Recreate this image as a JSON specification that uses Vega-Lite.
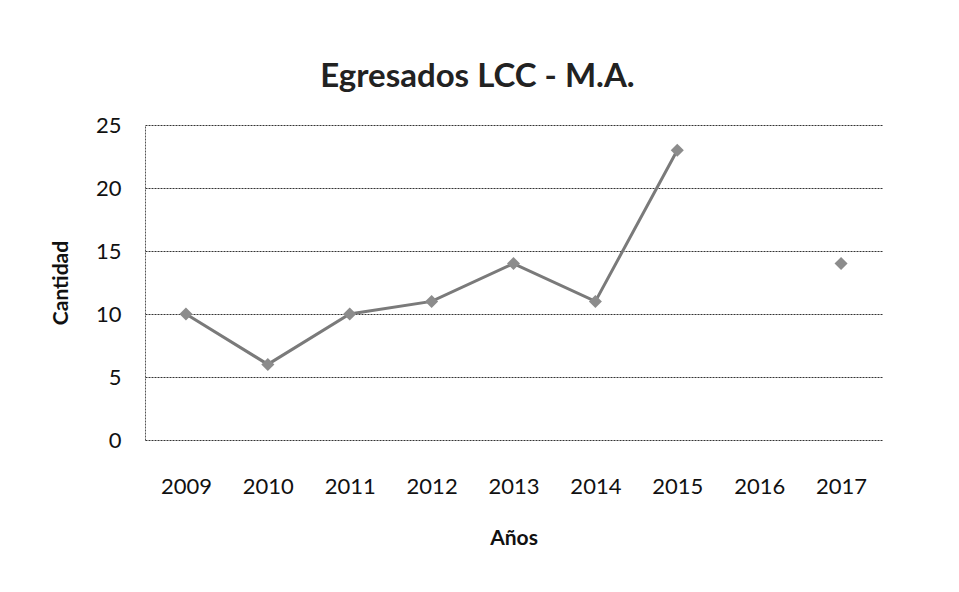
{
  "$schema": "https://vega.github.io/schema/vega-lite/v6.json",
  "width": 737,
  "height": 315,
  "autosize": "none",
  "padding": {"left": 145, "top": 125, "right": 77, "bottom": 152},
  "background": "white",
  "title": {
    "text": "Egresados LCC - M.A.",
    "font": "Lato",
    "fontSize": 33,
    "fontWeight": "bold",
    "color": "#222222",
    "anchor": "middle",
    "dx": -36,
    "offset": 20
  },
  "data": {
    "values": [
      {"year": "2009", "count": 10},
      {"year": "2010", "count": 6},
      {"year": "2011", "count": 10},
      {"year": "2012", "count": 11},
      {"year": "2013", "count": 14},
      {"year": "2014", "count": 11},
      {"year": "2015", "count": 23},
      {"year": "2016", "count": null},
      {"year": "2017", "count": 14}
    ]
  },
  "config": {
    "view": {"stroke": null},
    "axis": {
      "labelFont": "Lato",
      "titleFont": "Lato",
      "labelColor": "#111111",
      "titleColor": "#111111",
      "labelFontSize": 22,
      "titleFontSize": 21,
      "titleFontWeight": "bold"
    }
  },
  "encoding": {
    "x": {
      "field": "year",
      "type": "ordinal",
      "scale": {"type": "point", "padding": 0.5},
      "axis": {
        "title": "Años",
        "labelAngle": 0,
        "ticks": false,
        "domain": false,
        "labelPadding": 36,
        "titlePadding": 30
      }
    },
    "y": {
      "field": "count",
      "type": "quantitative",
      "scale": {"domain": [0, 25]},
      "axis": {
        "title": "Cantidad",
        "values": [0, 5, 10, 15, 20, 25],
        "ticks": false,
        "domain": true,
        "domainColor": "#555555",
        "domainDash": [2, 1],
        "grid": true,
        "gridColor": "#333333",
        "gridDash": [2, 1],
        "gridWidth": 1,
        "labelPadding": 24,
        "titlePadding": 24
      }
    }
  },
  "layer": [
    {
      "mark": {"type": "line", "color": "#7a7a7a", "strokeWidth": 3},
      "encoding": {}
    },
    {
      "mark": {"type": "point", "shape": "diamond", "filled": true, "color": "#8c8c8c", "size": 170, "opacity": 1},
      "transform": [{"filter": "datum.count != null"}],
      "encoding": {}
    }
  ]
}
